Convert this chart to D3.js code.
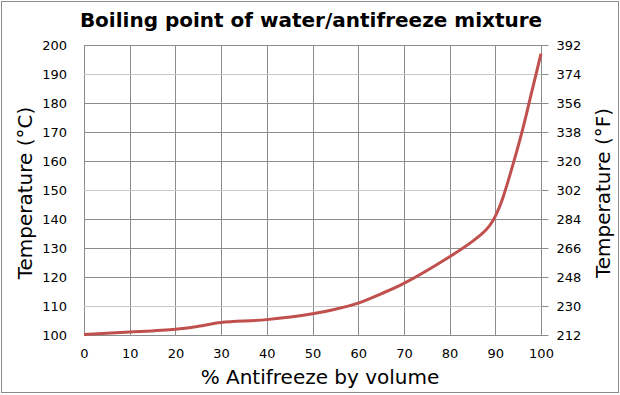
<!DOCTYPE html>
<html>
<head>
<meta charset="utf-8">
<script src="https://cdn.jsdelivr.net/npm/d3@7"></script>
<style>
  body { margin: 0; background: #fff; }
  text { font-family: "DejaVu Sans", Verdana, sans-serif; fill: #000; }
</style>
</head>
<body>
<script>
// % antifreeze by volume
var percent = [0, 10, 20, 25, 30, 40, 50, 55, 60, 65, 70, 80, 85, 88, 89.5, 91, 92, 94, 96, 98, 100];
// boiling point in degrees C
var boilC = [100.2, 101, 102, 103, 104.3, 105.3, 107.3, 108.9, 111, 114.2, 117.8, 127, 132.3, 136.3, 139.5, 144.5, 149, 159.5, 171, 184, 197];

var xTicks = [0, 10, 20, 30, 40, 50, 60, 70, 80, 90, 100];
var cTicks = [100, 110, 120, 130, 140, 150, 160, 170, 180, 190, 200];
var fTicks = [212, 230, 248, 266, 284, 302, 320, 338, 356, 374, 392];

var w = 620, h = 395;
var mLeft = 84, mRight = 541, mTop = 45, mBottom = 335;

var svg = d3.select("body").append("svg")
    .attr("width", w)
    .attr("height", h);

// outer frame
svg.append("rect")
    .attr("x", 1.5).attr("y", 1.5)
    .attr("width", 617).attr("height", 391)
    .style("fill", "#fff")
    .style("stroke", "#8c8c8c");

var x = d3.scaleLinear().domain([0, 100]).range([mLeft, mRight]);
var y = d3.scaleLinear().domain([100, 200]).range([mBottom, mTop]);
var yF = d3.scaleLinear().domain([212, 392]).range([mBottom, mTop]);

// gridlines
svg.append("g").selectAll("line")
    .data(xTicks)
    .enter().append("line")
    .attr("x1", function(d){ return Math.round(x(d)) + 0.5; })
    .attr("x2", function(d){ return Math.round(x(d)) + 0.5; })
    .attr("y1", mTop).attr("y2", mBottom)
    .style("stroke", "#8c8c8c");

svg.append("g").selectAll("line")
    .data(cTicks)
    .enter().append("line")
    .attr("x1", mLeft).attr("x2", mRight + 1)
    .attr("y1", function(d){ return Math.round(y(d)) + 0.5; })
    .attr("y2", function(d){ return Math.round(y(d)) + 0.5; })
    .style("stroke", function(d){ return (d == 110 || d == 150 || d == 190) ? "#c8c8c8" : "#8c8c8c"; });

// left axis (labels only)
var yAxis = d3.axisLeft(y).tickValues(cTicks).tickSize(0).tickPadding(17);
var gl = svg.append("g")
    .attr("transform", "translate(" + mLeft + ",0)")
    .call(yAxis);
gl.select(".domain").remove();
gl.selectAll("text").style("font-size", "13px").style("font-family", "DejaVu Sans, Verdana, sans-serif");

// right axis with outward ticks
var fAxis = d3.axisRight(yF).tickValues(fTicks).tickSize(7).tickPadding(8);
var gr = svg.append("g")
    .attr("transform", "translate(" + (mRight + 0.5) + ",0)")
    .call(fAxis);
gr.select(".domain").remove();
gr.selectAll("line").style("stroke", "#8c8c8c");
gr.selectAll("text").style("font-size", "13px").style("font-family", "DejaVu Sans, Verdana, sans-serif");

// bottom axis (labels only)
var xAxis = d3.axisBottom(x).tickValues(xTicks).tickSize(0).tickPadding(14);
var gb = svg.append("g")
    .attr("transform", "translate(0," + mBottom + ")")
    .call(xAxis);
gb.select(".domain").remove();
gb.selectAll("text").style("font-size", "13px").style("font-family", "DejaVu Sans, Verdana, sans-serif");

// the curve
var line = d3.line()
    .x(function(d){ return x(d[0]); })
    .y(function(d){ return y(d[1]); })
    .curve(d3.curveCatmullRom.alpha(0.5));

svg.append("path")
    .datum(percent.map(function(p, i){ return [p, boilC[i]]; }))
    .attr("d", line)
    .style("fill", "none")
    .style("stroke", "#c0504d")
    .style("stroke-width", 3)
    .style("stroke-linejoin", "round");

// titles
svg.append("text")
    .attr("x", 311).attr("y", 27)
    .attr("text-anchor", "middle")
    .style("font-size", "20px")
    .style("font-weight", "bold")
    .text("Boiling point of water/antifreeze mixture");

svg.append("text")
    .attr("x", 320).attr("y", 384)
    .attr("text-anchor", "middle")
    .style("font-size", "20px")
    .text("% Antifreeze by volume");

svg.append("text")
    .attr("transform", "translate(32,193) rotate(-90)")
    .attr("text-anchor", "middle")
    .style("font-size", "20px")
    .text("Temperature (°C)");

svg.append("text")
    .attr("transform", "translate(610,193) rotate(-90)")
    .attr("text-anchor", "middle")
    .style("font-size", "20px")
    .text("Temperature (°F)");
</script>
</body>
</html>
